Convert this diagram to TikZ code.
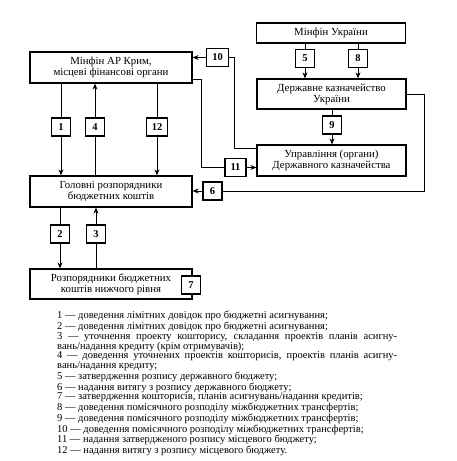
\documentclass[tikz,border=0pt]{standalone}
\usepackage{fontspec}
\setmainfont{Liberation Serif}
\usepackage{tikz}
\usetikzlibrary{arrows.meta,positioning,calc}
\definecolor{inkD}{HTML}{000000}
\definecolor{paperW}{HTML}{FFFFFF}
\tikzset{
  unit/.style={draw=inkD, line width=1.2pt, fill=paperW, align=center,
               font=\fontsize{10.8}{11}\selectfont, inner sep=2pt},
  widebox/.style={unit, minimum width=162pt, minimum height=31pt},
  kazbox/.style={unit, minimum width=149pt, minimum height=30pt},
  tag/.style={draw=inkD, line width=1.1pt, fill=paperW,
              font=\fontsize{10.5}{10.5}\selectfont\bfseries,
              inner xsep=5.5pt, inner ysep=2pt,
              minimum width=19pt, minimum height=18pt},
  link/.style={draw=inkD, line width=1pt},
  flow/.style={link, -{Stealth[length=6pt,width=5pt]}},
  legend/.style={font=\fontsize{10.5}{9.75}\selectfont, text width=340pt,
                 align=justify, inner sep=0pt},
}

\begin{document}
\begin{tikzpicture}[x=1pt,y=-1pt]
  \useasboundingbox[fill=paperW] (0,0) rectangle (457,461);
  % boxes
  \node[widebox] (mfk) at (111,67.5) {Мінфін АР Крим,\\місцеві фінансові органи};
  \node[widebox] (hol) at (111,191.5) {Головні розпорядники\\бюджетних коштів};
  \node[widebox, minimum height=30pt] (roz) at (111,284) {Розпорядники бюджетних\\коштів нижчого рівня};
  \node[kazbox, minimum height=20pt] (mfu) at (331,33) {Мінфін України};
  \node[kazbox] (dku) at (331.5,94) {Державне казначейство\\України};
  \node[kazbox, minimum height=31pt] (upr) at (331.5,160.5) {Управління (органи)\\Державного казначейства};
  % numbered tags
  \foreach \n/\x/\y in {1/61/127, 4/95/127, 12/157/127, 5/305/58.5, 8/358/58.5,
                        9/332/125, 2/60/234, 3/96/234, 10/217.5/57.5,
                        11/235.5/167.5, 6/212.5/191, 7/191/285}
    \node[tag] (t\n) at (\x,\y) {\n};
  % vertical flows
  \draw[link] (mfk.south -| t1) -- (t1.north);
  \draw[flow] (t1.south) -- (hol.north -| t1);
  \draw[link] (hol.north -| t4) -- (t4.south);
  \draw[flow] (t4.north) -- (mfk.south -| t4);
  \draw[link] (mfk.south -| t12) -- (t12.north);
  \draw[flow] (t12.south) -- (hol.north -| t12);
  \draw[link] (hol.south -| t2) -- (t2.north);
  \draw[flow] (t2.south) -- (roz.north -| t2);
  \draw[link] (roz.north -| t3) -- (t3.south);
  \draw[flow] (t3.north) -- (hol.south -| t3);
  \draw[link] (mfu.south -| t5) -- (t5.north);
  \draw[flow] (t5.south) -- (dku.north -| t5);
  \draw[link] (mfu.south -| t8) -- (t8.north);
  \draw[flow] (t8.south) -- (dku.north -| t8);
  \draw[link] (dku.south -| t9) -- (t9.north);
  \draw[flow] (t9.south) -- (upr.north -| t9);
  % side loops
  \draw[link] ([yshift=-4pt]upr.north west) -| ([xshift=5.5pt]t10.east) -- (t10.east);
  \draw[flow] (t10.west) -- (t10.west -| mfk.east);
  \draw[link] ([yshift=4pt]mfk.south east) -| ([xshift=-22.5pt]t11.west) -- (t11.west);
  \draw[flow] (t11.east) -- (t11.east -| upr.west);
  \coordinate (c6) at (424,191);
  \draw[link] (dku.east) -| (c6) -- (t6.east);
  \draw[flow] (t6.west) -- (t6.west -| hol.east);
  % legend
  \node[legend, anchor=north west] (leg) at (57,311) {%
    1 — доведення лімітних довідок про бюджетні асигнування;\par
    2 — доведення лімітних довідок про бюджетні асигнування;\par
    3 — уточнення проекту кошторису, складання проектів планів асигну-\linebreak
    вань/надання кредиту (крім отримувачів);\par
    4 — доведення уточнених проектів кошторисів, проектів планів асигну-\linebreak
    вань/надання кредиту;\par
    5 — затвердження розпису державного бюджету;\par
    6 — надання витягу з розпису державного бюджету;\par
    7 — затвердження кошторисів, планів асигнувань/надання кредитів;\par
    8 — доведення помісячного розподілу міжбюджетних трансфертів;\par
    9 — доведення помісячного розподілу міжбюджетних трансфертів;\par
    10 — доведення помісячного розподілу міжбюджетних трансфертів;\par
    11 — надання затвердженого розпису місцевого бюджету;\par
    12 — надання витягу з розпису місцевого бюджету.};
\end{tikzpicture}
\end{document}
